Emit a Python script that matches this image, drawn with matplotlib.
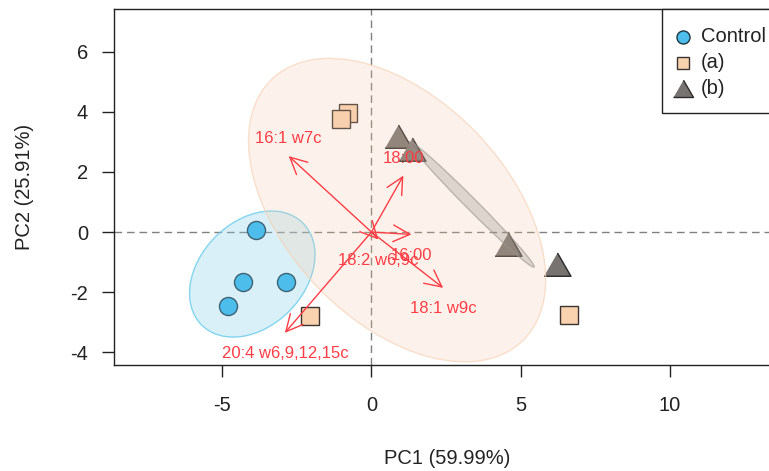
import matplotlib
matplotlib.use('Agg')
import matplotlib.pyplot as plt
from matplotlib.patches import Ellipse, Rectangle
from matplotlib.lines import Line2D

plt.rcParams['font.family'] = ['Liberation Sans', 'DejaVu Sans']
plt.rcParams['axes.unicode_minus'] = False

# ---- data ----
groups = ['Control', '(a)', '(b)']
control_x = [-3.88, -4.29, -2.87, -4.79]
control_y = [0.07, -1.66, -1.66, -2.46]
a_x = [-0.80, -1.03, -2.06, 6.60]
a_y = [3.96, 3.76, -2.79, -2.78]
b_x = [0.89, 1.35, 4.58, 6.20]
b_y = [3.17, 2.73, -0.42, -1.09]

loading_names = ['16:1 w7c', '18:00', '16:00', '18:2 w6,9c', '18:1 w9c', '20:4 w6,9,12,15c']
loading_x = [-2.77, 1.07, 1.34, 0.23, 2.40, -2.90]
loading_y = [2.53, 1.88, -0.08, -0.25, -1.86, -3.36]

ellipse_cx = [-3.99, 0.86, 3.36]
ellipse_cy = [-1.40, 0.73, 0.92]
ellipse_w = [4.8, 12.1, 5.9]
ellipse_h = [3.5, 7.4, 0.38]
ellipse_angle = [45, -46, -45]

x_ticks = [-5, 0, 5, 10]
y_ticks = [-4, -2, 0, 2, 4, 6]

# ---- styles ----
W, H = 769, 471
fig = plt.figure(figsize=(W / 100, H / 100), dpi=100)
L, R, T, B = 114, 780, 9, 365
ax = fig.add_axes([L / W, 1 - B / H, (R - L) / W, (B - T) / H])
ax.set_xlim(-8.62, 13.68)
ax.set_ylim(-4.43, 7.43)

red = '#FF3D45'
ell_face = ['#87CEEB', '#F8C8A4', '#8C8782']
ell_alpha = [0.3, 0.22, 0.28]
ell_edge = ['#6FCFEC', '#F7D3B8', '#9A958F']
ell_edge_alpha = [0.85, 0.7, 0.6]

ax.axhline(0, color='#808080', lw=1, ls=(0, (5.5, 3.5)), zorder=1)
ax.axvline(0, color='#808080', lw=1, ls=(0, (5.5, 3.5)), zorder=1)

ax.plot(control_x, control_y, 'o', ms=13, mfc='#34B6EB', mec='#1E3440', mew=1.0, zorder=3)
ax.plot(a_x, a_y, 's', ms=12.6, mfc='#F9D3B0', mec='#3A3330', mew=1.0, zorder=3)
tri = [(-1, -0.8), (1, -0.8), (0, 0.93)]
ax.plot(b_x, b_y, marker=tri, ls='none', ms=19.4, mfc='#767371', mec='#2A2A2A', mew=1.0, zorder=3)

for i in range(3):
    e = Ellipse((ellipse_cx[i], ellipse_cy[i]), ellipse_w[i], ellipse_h[i], angle=ellipse_angle[i],
                zorder=4, lw=1)
    e.set_facecolor(matplotlib.colors.to_rgba(ell_face[i], ell_alpha[i]))
    e.set_edgecolor(matplotlib.colors.to_rgba(ell_edge[i], ell_edge_alpha[i]))
    ax.add_patch(e)

for name, lx, ly in zip(loading_names, loading_x, loading_y):
    ax.annotate('', xy=(lx, ly), xytext=(0, 0),
                arrowprops=dict(arrowstyle='->,head_length=0.6,head_width=0.3', color=red,
                                lw=1, shrinkA=0, shrinkB=0, mutation_scale=20), zorder=5)
    off = 12.5 if ly > 0 else -15
    ax.annotate(name, xy=(lx, ly), xytext=(0, off), textcoords='offset points',
                ha='center', va='center', color=red, fontsize=12, zorder=6)

ax.set_xticks(x_ticks)
ax.set_yticks(y_ticks)
ax.set_xticklabels([str(v) for v in x_ticks])
ax.set_yticklabels([str(v) for v in y_ticks])
ax.tick_params(direction='out', length=8.6, width=1, colors='#222222', labelsize=14.5)
ax.tick_params(axis='x', pad=14)
ax.tick_params(axis='y', pad=10)
for s in ax.spines.values():
    s.set_color('#222222')
    s.set_linewidth(1)

fig.text(447 / W, 1 - 458 / H, 'PC1 (59.99%)', ha='center', va='center', fontsize=14.5, color='#222222')
fig.text(25 / W, 1 - 187 / H, 'PC2 (25.91%)', ha='center', va='center', rotation=90,
         fontsize=14.5, color='#222222')

# ---- legend (manual, R style) ----
fig.add_artist(Rectangle((662 / W, 1 - 113 / H), 140 / W, (113 - 9) / H, transform=fig.transFigure,
                         facecolor='white', edgecolor='#222222', lw=1, zorder=10))
leg_y = [37, 63, 89]
leg_style = [dict(marker='o', ms=9.4, mfc='#4DBDEB', mec='#1E3440'),
             dict(marker='s', ms=8.6, mfc='#F9D3B0', mec='#3A3330'),
             dict(marker=tri, ms=14.4, mfc='#767371', mec='#2A2A2A')]
for g, yy, st in zip(groups, leg_y, leg_style):
    fig.add_artist(Line2D([683 / W], [1 - yy / H], transform=fig.transFigure, ls='none', mew=1.0,
                          zorder=11, **st))
    fig.text(701 / W, 1 - yy / H, g, ha='left', va='center', fontsize=14.5, color='#222222', zorder=11)

fig.savefig('out.png', dpi=100)
